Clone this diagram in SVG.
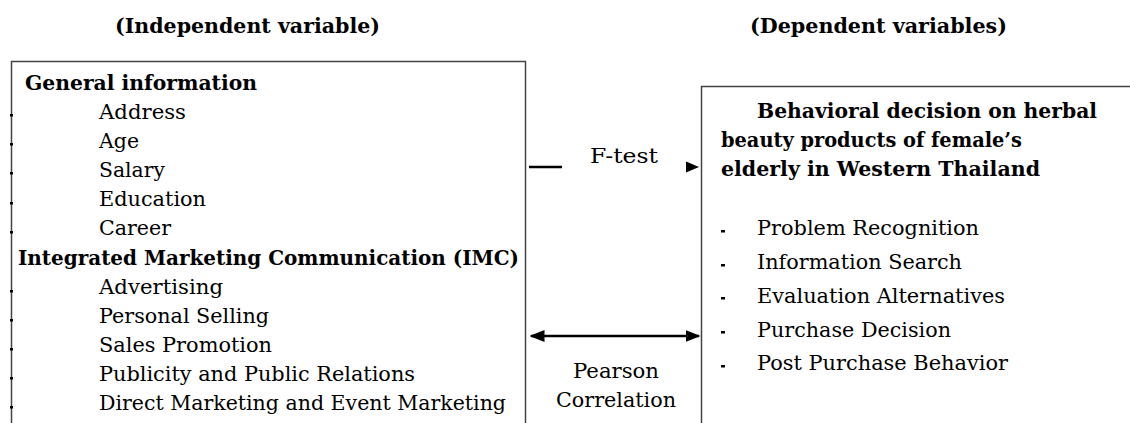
<svg xmlns="http://www.w3.org/2000/svg" width="1130" height="423" viewBox="0 0 1130 423">
  <style>
    text { font-family: "DejaVu Serif", "Liberation Serif", serif; fill: #000; }
    .hd { font-size: 20px; font-weight: bold; }
    .b { font-size: 20px; font-weight: bold; }
    .t { font-size: 20.5px; }
    .box { fill: #fff; stroke: #444; stroke-width: 1.5; }
    .line { stroke: #000; stroke-width: 2.5; fill: none; }
  </style>
  <defs>
    <marker id="head" viewBox="0 0 10 10" refX="9" refY="5" markerWidth="15" markerHeight="15" markerUnits="userSpaceOnUse" orient="auto-start-reverse">
      <path d="M0,1 L10,5 L0,9 Z" fill="#000"/>
    </marker>
  </defs>
  <rect width="1130" height="423" fill="#fff"/>

  <!-- column headings -->
  <text class="hd" x="115" y="33" textLength="265" lengthAdjust="spacingAndGlyphs">(Independent variable)</text>
  <text class="hd" x="750" y="33" textLength="257" lengthAdjust="spacingAndGlyphs">(Dependent variables)</text>

  <!-- independent variable box -->
  <g id="independent">
    <rect class="box" x="11.5" y="61.5" width="514" height="380"/>
    <g fill="#000">
      <rect x="10" y="114" width="3" height="2.5"/>
      <rect x="10" y="143" width="3" height="2.5"/>
      <rect x="10" y="172" width="3" height="2.5"/>
      <rect x="10" y="202" width="3" height="2.5"/>
      <rect x="10" y="231" width="3" height="2.5"/>
      <rect x="10" y="290" width="3" height="2.5"/>
      <rect x="10" y="319" width="3" height="2.5"/>
      <rect x="10" y="348" width="3" height="2.5"/>
      <rect x="10" y="377" width="3" height="2.5"/>
      <rect x="10" y="406" width="3" height="2.5"/>
    </g>
    <text class="b" x="25" y="90" textLength="232" lengthAdjust="spacingAndGlyphs">General information</text>
    <text class="t" x="99" y="119" textLength="87" lengthAdjust="spacingAndGlyphs">Address</text>
    <text class="t" x="99" y="148" textLength="40" lengthAdjust="spacingAndGlyphs">Age</text>
    <text class="t" x="99" y="177" textLength="66" lengthAdjust="spacingAndGlyphs">Salary</text>
    <text class="t" x="99" y="206" textLength="107" lengthAdjust="spacingAndGlyphs">Education</text>
    <text class="t" x="99" y="235" textLength="72" lengthAdjust="spacingAndGlyphs">Career</text>
    <text class="b" x="18" y="265" textLength="501" lengthAdjust="spacingAndGlyphs">Integrated Marketing Communication (IMC)</text>
    <text class="t" x="99" y="294" textLength="124" lengthAdjust="spacingAndGlyphs">Advertising</text>
    <text class="t" x="99" y="323" textLength="170" lengthAdjust="spacingAndGlyphs">Personal Selling</text>
    <text class="t" x="99" y="352" textLength="173" lengthAdjust="spacingAndGlyphs">Sales Promotion</text>
    <text class="t" x="99" y="381" textLength="316" lengthAdjust="spacingAndGlyphs">Publicity and Public Relations</text>
    <text class="t" x="99" y="410" textLength="407" lengthAdjust="spacingAndGlyphs">Direct Marketing and Event Marketing</text>
  </g>

  <!-- dependent variable box -->
  <g id="dependent">
    <rect class="box" x="701.5" y="86.5" width="460" height="360"/>
    <text class="b" x="757" y="118" textLength="340" lengthAdjust="spacingAndGlyphs">Behavioral decision on herbal</text>
    <text class="b" x="721" y="147" textLength="301" lengthAdjust="spacingAndGlyphs">beauty products of female’s</text>
    <text class="b" x="721" y="176" textLength="319" lengthAdjust="spacingAndGlyphs">elderly in Western Thailand</text>
    <g fill="#000">
      <rect x="721" y="230" width="4" height="2.5"/>
      <rect x="721" y="264" width="4" height="2.5"/>
      <rect x="721" y="297" width="4" height="2.5"/>
      <rect x="721" y="331" width="4" height="2.5"/>
      <rect x="721" y="365" width="4" height="2.5"/>
    </g>
    <text class="t" x="757" y="235" textLength="222" lengthAdjust="spacingAndGlyphs">Problem Recognition</text>
    <text class="t" x="757" y="269" textLength="205" lengthAdjust="spacingAndGlyphs">Information Search</text>
    <text class="t" x="757" y="303" textLength="248" lengthAdjust="spacingAndGlyphs">Evaluation Alternatives</text>
    <text class="t" x="757" y="337" textLength="194" lengthAdjust="spacingAndGlyphs">Purchase Decision</text>
    <text class="t" x="757" y="370" textLength="251" lengthAdjust="spacingAndGlyphs">Post Purchase Behavior</text>
  </g>

  <!-- connectors -->
  <g id="connectors">
    <line class="line" x1="529" y1="167" x2="562" y2="167"/>
    <path d="M686,161.5 L699,167 L686,172.5 Z" fill="#000"/>
    <text class="t" x="624" y="163" text-anchor="middle" textLength="68" lengthAdjust="spacingAndGlyphs">F-test</text>

    <line class="line" x1="531" y1="336" x2="699" y2="336" marker-start="url(#head)" marker-end="url(#head)"/>
    <text class="t" x="616" y="378" text-anchor="middle" textLength="86" lengthAdjust="spacingAndGlyphs">Pearson</text>
    <text class="t" x="616" y="407" text-anchor="middle" textLength="120" lengthAdjust="spacingAndGlyphs">Correlation</text>
  </g>
</svg>
